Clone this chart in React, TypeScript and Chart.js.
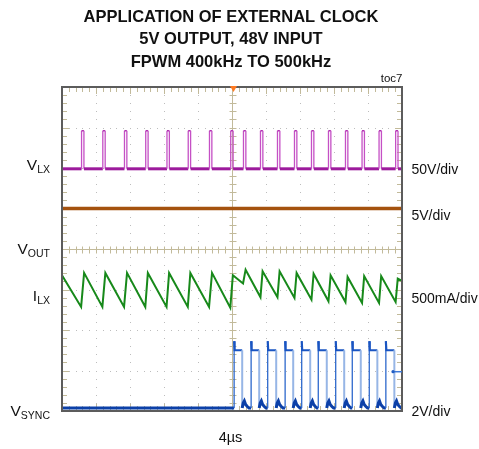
import React, { useEffect, useRef } from "react";
import { Chart, registerables } from "chart.js";

Chart.register(...registerables);

// ---- scope settings ----
const US_PER_DIV = 4;
const X_DIVS = 10;
const Y_DIVS = 8;
const TIME_END_US = US_PER_DIV * X_DIVS;

// channel ground offsets (divisions from bottom) and scales (units/div)
const VLX_OFFSET_DIV = 5.98;
const VLX_V_PER_DIV = 50;
const VOUT_OFFSET_DIV = 4;
const VOUT_V_PER_DIV = 5;
const ILX_OFFSET_DIV = 2.85;
const ILX_A_PER_DIV = 0.5;
const VSYNC_OFFSET_DIV = 0;
const VSYNC_V_PER_DIV = 2;

// ---- data ----
const titleLines = ["APPLICATION OF EXTERNAL CLOCK", "5V OUTPUT, 48V INPUT", "FPWM 400kHz TO 500kHz"];
const scaleLabels = ["50V/div", "5V/div", "500mA/div", "2V/div"];
const timeLabel = "4\u00b5s";

// VLX switching node: pulse start times (us), pulse width, levels (V)
const vlxRiseUs = [2.3, 4.8, 7.35, 9.85, 12.35, 14.85, 17.35, 19.85, 21.35, 23.35, 25.35, 27.35, 29.35, 31.35, 33.35, 35.3, 37.3, 39.25];
const vlxPulseWidthUs = 0.28;
const vlxLevelsV = [0, 47];

// VOUT (V)
const voutTimesUs = [0, 40];
const voutV = [5.0, 5.0];

// ILX inductor current (A)
const ilxTimesUs = [0, 2.25, 2.6, 4.75, 5.1, 7.3, 7.65, 9.8, 10.1, 12.3, 12.6, 14.8, 15.1, 17.3, 17.65, 19.8, 20.1, 21.3, 21.6, 23.35, 23.6, 25.35, 25.6, 27.35, 27.6, 29.35, 29.6, 31.35, 31.6, 33.35, 33.6, 35.3, 35.55, 37.3, 37.55, 39.25, 39.5, 40];
const ilxA = [0.25, -0.14, 0.28, -0.14, 0.28, -0.14, 0.28, -0.14, 0.28, -0.14, 0.28, -0.14, 0.28, -0.14, 0.28, -0.15, 0.25, 0.15, 0.32, -0.02, 0.3, -0.02, 0.3, -0.03, 0.28, -0.05, 0.27, -0.07, 0.25, -0.08, 0.23, -0.09, 0.24, -0.09, 0.24, -0.08, 0.21, 0.18];

// VSYNC external clock (V)
const vsyncRiseUs = [20.25, 22.25, 24.2, 26.25, 28.2, 30.15, 32.2, 34.15, 36.15, 38.1];
const vsyncFallUs = [21.2, 23.2, 25.2, 27.2, 29.2, 31.15, 33.2, 35.15, 37.1, 39.1];
const vsyncLevelsV = [0.15, 3.0];
const vsyncOvershootV = 3.45;
const vsyncRingOffsetUs = [0.12, 0.25, 0.4, 0.6];
const vsyncRingV = [0.4, 0.5, 0.32, 0.22];
const vsyncMarkerV = 1.94;

type P = { x: number; y: number };

function buildVlx(): P[] {
  const d = (v: number) => VLX_OFFSET_DIV + v / VLX_V_PER_DIV;
  const [lo, hi] = vlxLevelsV;
  const pts: P[] = [{ x: 0, y: d(lo) }];
  vlxRiseUs.forEach((r) => {
    pts.push({ x: r, y: d(lo) }, { x: r, y: d(hi) }, { x: r + vlxPulseWidthUs, y: d(hi) }, { x: r + vlxPulseWidthUs, y: d(lo) });
  });
  pts.push({ x: TIME_END_US, y: d(lo) });
  return pts;
}

function buildVout(): P[] {
  return voutTimesUs.map((t, i) => ({ x: t, y: VOUT_OFFSET_DIV + voutV[i] / VOUT_V_PER_DIV }));
}

function buildIlx(): P[] {
  return ilxTimesUs.map((t, i) => ({ x: t, y: ILX_OFFSET_DIV + ilxA[i] / ILX_A_PER_DIV }));
}

function buildVsync(): P[] {
  const d = (v: number) => VSYNC_OFFSET_DIV + v / VSYNC_V_PER_DIV;
  const [lo, hi] = vsyncLevelsV;
  const pts: P[] = [{ x: 0, y: d(lo) }];
  vsyncRiseUs.forEach((r, i) => {
    const f = vsyncFallUs[i];
    pts.push({ x: r, y: d(lo) }, { x: r, y: d(vsyncOvershootV) }, { x: r + 0.06, y: d(hi) }, { x: f, y: d(hi) }, { x: f, y: d(lo) });
    vsyncRingOffsetUs.forEach((o, k) => pts.push({ x: f + o, y: d(vsyncRingV[k]) }));
    pts.push({ x: f + 0.8, y: d(lo) });
  });
  pts.push({ x: TIME_END_US, y: d(lo) });
  return pts;
}

const FONT = '"Liberation Sans", Arial, Helvetica, sans-serif';

const scopePlugin = {
  id: "scopeDecor",
  beforeDatasetsDraw(chart: any) {
    const { ctx, chartArea } = chart;
    const { left, right, top, bottom } = chartArea;
    const xs = chart.scales.x;
    const ys = chart.scales.y;
    ctx.save();
    // dotted grid
    ctx.fillStyle = "#bdbdbd";
    for (let i = 1; i < X_DIVS; i++) {
      if (i === X_DIVS / 2) continue;
      const px = Math.round(xs.getPixelForValue(i * US_PER_DIV));
      for (let k = 1; k < Y_DIVS * 5; k++) {
        const py = Math.round(ys.getPixelForValue(k / 5));
        ctx.fillRect(px, py, 1, 1);
      }
    }
    for (let j = 1; j < Y_DIVS; j++) {
      if (j === Y_DIVS / 2) continue;
      const py = Math.round(ys.getPixelForValue(j));
      for (let k = 1; k < X_DIVS * 5; k++) {
        const px = Math.round(xs.getPixelForValue((k * US_PER_DIV) / 5));
        ctx.fillRect(px, py, 1, 1);
      }
    }
    // center cross
    const cx = Math.round(xs.getPixelForValue(TIME_END_US / 2)) + 0.5;
    const cy = Math.round(ys.getPixelForValue(Y_DIVS / 2)) + 0.5;
    ctx.strokeStyle = "#c2ba9a";
    ctx.lineWidth = 1;
    ctx.beginPath();
    ctx.moveTo(cx, top);
    ctx.lineTo(cx, bottom);
    ctx.moveTo(left, cy);
    ctx.lineTo(right, cy);
    for (let k = 1; k < Y_DIVS * 5; k++) {
      const py = Math.round(ys.getPixelForValue(k / 5)) + 0.5;
      ctx.moveTo(cx - 3, py);
      ctx.lineTo(cx + 4, py);
    }
    for (let k = 1; k < X_DIVS * 5; k++) {
      const px = Math.round(xs.getPixelForValue((k * US_PER_DIV) / 5)) + 0.5;
      ctx.moveTo(px, cy - 3);
      ctx.lineTo(px, cy + 4);
    }
    // edge ticks
    for (let k = 1; k < X_DIVS * 5; k++) {
      const px = Math.round(xs.getPixelForValue((k * US_PER_DIV) / 5)) + 0.5;
      const len = k % 5 === 0 ? 7 : 5;
      ctx.moveTo(px, top);
      ctx.lineTo(px, top + len);
      ctx.moveTo(px, bottom);
      ctx.lineTo(px, bottom - len);
    }
    for (let k = 1; k < Y_DIVS * 5; k++) {
      const py = Math.round(ys.getPixelForValue(k / 5)) + 0.5;
      const len = k % 5 === 0 ? 7 : 5;
      ctx.moveTo(left, py);
      ctx.lineTo(left + len, py);
      ctx.moveTo(right, py);
      ctx.lineTo(right - len, py);
    }
    ctx.stroke();
    ctx.restore();
  },
  afterDatasetsDraw(chart: any) {
    const { ctx, chartArea } = chart;
    const { left, right, top, bottom } = chartArea;
    const xs = chart.scales.x;
    const ys = chart.scales.y;
    ctx.save();
    // frame
    ctx.strokeStyle = "#5c5c5c";
    ctx.lineWidth = 2;
    ctx.strokeRect(left, top, right - left, bottom - top);
    // trigger marker
    const cx = xs.getPixelForValue(TIME_END_US / 2) + 1.5;
    ctx.fillStyle = "#ff7a22";
    ctx.beginPath();
    ctx.moveTo(cx - 3.5, top - 1);
    ctx.lineTo(cx + 3.5, top - 1);
    ctx.lineTo(cx, top + 5);
    ctx.closePath();
    ctx.fill();
    // trigger level marker (VSYNC)
    const my = ys.getPixelForValue(VSYNC_OFFSET_DIV + vsyncMarkerV / VSYNC_V_PER_DIV);
    ctx.strokeStyle = "#3d78d6";
    ctx.fillStyle = "#1f5cc4";
    ctx.lineWidth = 1.5;
    ctx.beginPath();
    ctx.moveTo(right - 9, my);
    ctx.lineTo(right, my);
    ctx.stroke();
    ctx.beginPath();
    ctx.arc(right - 9, my, 1.6, 0, Math.PI * 2);
    ctx.fill();
    ctx.restore();
  },
  afterDraw(chart: any) {
    const ctx = chart.ctx;
    ctx.save();
    ctx.fillStyle = "#111";
    ctx.textBaseline = "alphabetic";
    // title
    ctx.font = `bold 16.5px ${FONT}`;
    ctx.textAlign = "center";
    const tb = [21.5, 44, 66.5];
    titleLines.forEach((l, i) => ctx.fillText(l, 231, tb[i]));
    // toc7
    ctx.font = `11.5px ${FONT}`;
    ctx.textAlign = "right";
    ctx.fillText("toc7", 402.5, 82);
    // channel names with subscripts
    const sub = (main: string, s: string, rightX: number, base: number) => {
      ctx.textAlign = "left";
      ctx.font = `10.5px ${FONT}`;
      const ws = ctx.measureText(s).width;
      ctx.font = `15.5px ${FONT}`;
      const wm = ctx.measureText(main).width;
      const x0 = rightX - ws - wm;
      ctx.fillText(main, x0, base);
      ctx.font = `10.5px ${FONT}`;
      ctx.fillText(s, x0 + wm, base + 3);
    };
    sub("V", "LX", 50, 170);
    sub("V", "OUT", 50, 254);
    sub("I", "LX", 50, 300.5);
    sub("V", "SYNC", 50, 415.5);
    // scale labels
    ctx.font = `14px ${FONT}`;
    ctx.textAlign = "left";
    const sb = [174, 219.5, 303, 415.5];
    scaleLabels.forEach((l, i) => ctx.fillText(l, 411.5, sb[i]));
    // time base
    ctx.font = `14.5px ${FONT}`;
    ctx.textAlign = "center";
    ctx.fillText(timeLabel, 230.5, 442);
    ctx.restore();
  },
};

const isVertical = (c: any) => c.p0.parsed.x === c.p1.parsed.x;

export default function App() {
  const ref = useRef<HTMLCanvasElement | null>(null);
  useEffect(() => {
    if (!ref.current) return;
    const vlxLowDiv = VLX_OFFSET_DIV + vlxLevelsV[0] / VLX_V_PER_DIV;
    const vsLowDiv = VSYNC_OFFSET_DIV + vsyncLevelsV[0] / VSYNC_V_PER_DIV;
    const chart = new Chart(ref.current, {
      type: "line",
      data: {
        datasets: [
          {
            label: "VOUT",
            data: buildVout(),
            borderColor: "#a4520e",
            borderWidth: 3.5,
          },
          {
            label: "VLX",
            data: buildVlx(),
            borderColor: "#a020a0",
            borderWidth: 1.5,
            segment: {
              borderColor: (c: any) => (isVertical(c) ? "#c550c5" : c.p0.parsed.y === vlxLowDiv ? "#9c1a9c" : "#b030b0"),
              borderWidth: (c: any) => (isVertical(c) ? 1.3 : c.p0.parsed.y === vlxLowDiv ? 3 : 1.5),
            },
          },
          {
            label: "ILX",
            data: buildIlx(),
            borderColor: "#17891a",
            borderWidth: 2,
          },
          {
            label: "VSYNC",
            data: buildVsync(),
            borderColor: "#1248b0",
            borderWidth: 2.5,
            segment: {
              borderColor: (c: any) =>
                isVertical(c) ? (c.p1.parsed.y > c.p0.parsed.y ? "#2d68cc" : "#97b6e6") : c.p0.parsed.y <= vsLowDiv + 0.45 ? "#0c40a8" : "#1a55c2",
              borderWidth: (c: any) => (isVertical(c) ? (c.p1.parsed.y > c.p0.parsed.y ? 1.3 : 2) : c.p0.parsed.y <= vsLowDiv + 0.45 ? 3 : 2.2),
            },
          },
        ] as any,
      },
      options: {
        animation: false,
        responsive: false,
        events: [],
        layout: { padding: { left: 62, right: 77, top: 87, bottom: 38 } },
        elements: { point: { radius: 0 }, line: { tension: 0 } },
        scales: {
          x: { type: "linear", min: 0, max: TIME_END_US, display: false },
          y: { type: "linear", min: 0, max: Y_DIVS, display: false },
        },
        plugins: { legend: { display: false }, tooltip: { enabled: false }, title: { display: false } },
      } as any,
      plugins: [scopePlugin],
    });
    return () => chart.destroy();
  }, []);
  return (
    <div style={{ position: "absolute", left: 0, top: 0, width: 479, height: 449, background: "#fff" }}>
      <canvas ref={ref} width={479} height={449} style={{ width: 479, height: 449, display: "block" }} />
    </div>
  );
}
